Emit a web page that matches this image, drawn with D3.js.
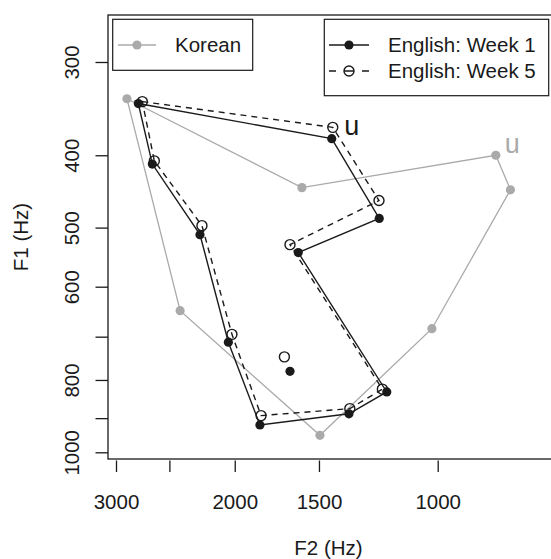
<!DOCTYPE html>
<html>
<head>
<meta charset="utf-8">
<script src="https://cdn.jsdelivr.net/npm/d3@7"></script>
<style>
  body { margin: 0; background: #fff; }
  svg { display: block; font-family: "Liberation Sans", Arial, Helvetica, sans-serif; }
</style>
</head>
<body>
<div id="chart"></div>
<script>
// vowel formants, Hz (closed polygons: last vowel joins back to the first)
var koreanF2 = [2890, 1590, 820, 780, 1020, 1495, 2410],
    koreanF1 = [336, 442, 400, 445, 683, 949, 646];

var week1F2 = [2780, 1436, 1221, 1610, 1190, 1354, 1835, 2044, 2252, 2650],
    week1F1 = [341, 380, 486, 540, 830, 888, 919, 712, 511, 411],
    week1CentralF2 = [1656],
    week1CentralF1 = [779];

var week5F2 = [2742, 1431, 1222, 1656, 1208, 1350, 1828, 2019, 2237, 2632],
    week5F1 = [339, 367, 460, 527, 823, 874, 893, 695, 497, 407],
    week5CentralF2 = [1688],
    week5CentralF1 = [745];

// "u" labels
var labelText = ["u", "u"],
    labelF2 = [1341, 775],
    labelF1 = [365, 386];

var xTicks = [3000, 2500, 2000, 1500, 1000],
    xTickLabels = ["3000", "", "2000", "1500", "1000"],
    yTicks = [300, 400, 500, 600, 700, 800, 900, 1000],
    yTickLabels = ["300", "400", "500", "600", "", "800", "", "1000"];

var legendLeft = ["Korean"],
    legendRight = ["English: Week 1", "English: Week 5"];

var width = 551, height = 559,
    box = {left: 108, top: 15, right: 552, bottom: 459},
    gray = "#aaaaaa",
    ink = "#1a1a1a",
    fontSize = 20.5;

var svg = d3.select("#chart").append("svg")
    .attr("width", width)
    .attr("height", height);

// F2 runs right to left, both axes logarithmic
var x = d3.scaleLog().domain([3000, 1000]).range([116, 437.7]),
    y = d3.scaleLog().domain([300, 1000]).range([62, 452.3]);

function toPoints(f2, f1) {
    return f2.map(function (d, i) { return [f2[i], f1[i]]; });
}

var line = d3.line()
    .x(function (d) { return x(d[0]); })
    .y(function (d) { return y(d[1]); })
    .curve(d3.curveLinearClosed);

var plot = svg.append("g");

function drawSeries(pts, opts) {
    plot.append("path")
        .attr("d", line(pts))
        .attr("fill", "none")
        .attr("stroke", opts.color)
        .attr("stroke-width", opts.lw)
        .attr("stroke-dasharray", opts.dash || null);
    drawPoints(pts, opts);
}

function drawPoints(pts, opts) {
    plot.selectAll(null)
        .data(pts)
        .enter().append("circle")
        .attr("cx", function (d) { return x(d[0]); })
        .attr("cy", function (d) { return y(d[1]); })
        .attr("r", opts.r)
        .attr("fill", opts.open ? "none" : opts.color)
        .attr("stroke", opts.open ? opts.color : "none")
        .attr("stroke-width", 1.4);
}

var koreanStyle = {color: gray, lw: 1.3, r: 4.6},
    week1Style = {color: ink, lw: 1.4, r: 4.6},
    week5Style = {color: ink, lw: 1.4, r: 5, open: true, dash: "6,5"};

drawSeries(toPoints(koreanF2, koreanF1), koreanStyle);
drawSeries(toPoints(week1F2, week1F1), week1Style);
drawPoints(toPoints(week1CentralF2, week1CentralF1), week1Style);
drawSeries(toPoints(week5F2, week5F1), week5Style);
drawPoints(toPoints(week5CentralF2, week5CentralF1), week5Style);

plot.selectAll("text.vowel")
    .data(labelText)
    .enter().append("text")
    .attr("class", "vowel")
    .attr("x", function (d, i) { return x(labelF2[i]); })
    .attr("y", function (d, i) { return y(labelF1[i]); })
    .attr("dy", "0.35em")
    .attr("text-anchor", "middle")
    .attr("font-size", 27)
    .attr("fill", function (d, i) { return i === 0 ? ink : gray; })
    .text(function (d) { return d; });

// plot frame
svg.append("rect")
    .attr("x", box.left)
    .attr("y", box.top)
    .attr("width", box.right - box.left)
    .attr("height", box.bottom - box.top)
    .attr("fill", "none")
    .attr("stroke", ink)
    .attr("stroke-width", 1.3);

// axes
var xAxis = svg.append("g")
    .attr("transform", "translate(0," + box.bottom + ")")
    .call(d3.axisBottom(x)
        .tickValues(xTicks)
        .tickFormat(function (d, i) { return xTickLabels[i]; })
        .tickSize(13));

var yAxis = svg.append("g")
    .attr("transform", "translate(" + box.left + ",0)")
    .call(d3.axisLeft(y)
        .tickValues(yTicks)
        .tickFormat(function (d, i) { return yTickLabels[i]; })
        .tickSize(12.5));

[xAxis, yAxis].forEach(function (g) {
    g.select(".domain").remove();
    g.selectAll(".tick line").attr("stroke", ink).attr("stroke-width", 1.3);
    g.selectAll(".tick text")
        .attr("fill", ink)
        .attr("font-size", fontSize)
        .attr("font-family", "Liberation Sans, Arial, sans-serif");
});
xAxis.selectAll(".tick line").attr("y1", 1.5);
xAxis.selectAll(".tick text")
    .attr("y", 50)
    .attr("dy", null);
yAxis.selectAll(".tick text")
    .attr("transform", "rotate(-90)")
    .attr("x", 0)
    .attr("y", -28.7)
    .attr("dy", null)
    .attr("text-anchor", "middle");

// axis titles
svg.append("text")
    .attr("x", (box.left + 549) / 2)
    .attr("y", 555)
    .attr("text-anchor", "middle")
    .attr("font-size", fontSize)
    .attr("fill", ink)
    .text("F2 (Hz)");

svg.append("text")
    .attr("transform", "translate(28.3," + (box.top + box.bottom) / 2 + ") rotate(-90)")
    .attr("text-anchor", "middle")
    .attr("font-size", fontSize)
    .attr("fill", ink)
    .text("F1 (Hz)");

// legends
function legendBox(x0, y0, x1, y1) {
    svg.append("rect")
        .attr("x", x0).attr("y", y0)
        .attr("width", x1 - x0).attr("height", y1 - y0)
        .attr("fill", "#fff")
        .attr("stroke", ink)
        .attr("stroke-width", 1.2);
}

function legendKey(xs, xe, cy, label, opts) {
    var g = svg.append("g");
    g.append("line")
        .attr("x1", xs).attr("x2", xe)
        .attr("y1", cy).attr("y2", cy)
        .attr("stroke", opts.color)
        .attr("stroke-width", opts.lw)
        // legend dashes: short dash, one through the symbol, short dash
        .attr("stroke-dasharray", opts.dash ? "7,8,10,8,7" : null);
    g.append("circle")
        .attr("cx", (xs + xe) / 2).attr("cy", cy)
        .attr("r", opts.r)
        .attr("fill", opts.open ? "none" : opts.color)
        .attr("stroke", opts.open ? opts.color : "none")
        .attr("stroke-width", 1.4);
    g.append("text")
        .attr("x", opts.textX)
        .attr("y", cy + 7.4)
        .attr("font-size", fontSize)
        .attr("fill", ink)
        .text(label);
}

legendBox(112.7, 19.3, 252.7, 70.3);
legendKey(118, 156, 45, legendLeft[0], Object.assign({textX: 175}, koreanStyle));

legendBox(324.3, 19.3, 548.7, 95.7);
legendKey(329, 369, 45, legendRight[0], Object.assign({textX: 388}, week1Style));
legendKey(329, 369, 71, legendRight[1], Object.assign({textX: 388}, week5Style));
</script>
</body>
</html>
